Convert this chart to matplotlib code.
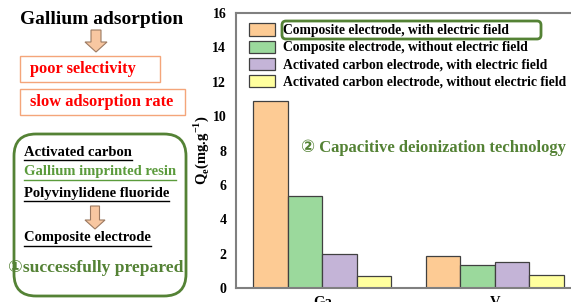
import matplotlib
matplotlib.use("Agg")
import matplotlib.pyplot as plt
from matplotlib.patches import FancyBboxPatch, Rectangle, Polygon
import numpy as np

categories = ["Ga", "V"]
series_names = [
    "Composite electrode, with electric field",
    "Composite electrode, without electric field",
    "Activated carbon electrode, with electric field",
    "Activated carbon electrode, without electric field",
]
values = [
    [10.9, 1.84],
    [5.37, 1.32],
    [1.96, 1.49],
    [0.68, 0.74],
]
colors = ["#FDCB94", "#9BD99C", "#C4B4D7", "#FFFF9E"]
yticks = [0, 2, 4, 6, 8, 10, 12, 14, 16]

SERIF = ["Liberation Serif", "DejaVu Serif"]
GREEN = "#548235"

W, H = 571, 302
fig = plt.figure(figsize=(W / 100, H / 100), dpi=100)

# main bar chart axes (extends slightly beyond right edge as in reference)
ax = fig.add_axes([236 / W, 14 / H, 345 / W, 275 / H])
x = np.arange(len(categories))
bw = 0.2
for i, (name, vals) in enumerate(zip(series_names, values)):
    ax.bar(x + (i - 1.5) * bw, vals, bw, color=colors[i], edgecolor="#404040",
           linewidth=0.9, label=name)
ax.set_xlim(-0.5, 1.5)
ax.set_ylim(0, 16)
ax.set_yticks(yticks)
ax.set_yticklabels([str(t) for t in yticks], fontfamily=SERIF, fontweight="bold", fontsize=10)
ax.set_xticks(x)
ax.set_xticklabels(categories, fontfamily=SERIF, fontweight="bold", fontsize=10.5)
ax.tick_params(axis="y", length=0, pad=7)
ax.tick_params(axis="x", length=0, pad=6)
for s in ["left", "bottom", "top", "right"]:
    ax.spines[s].set_color("#808080")
    ax.spines[s].set_linewidth(1.5)
ax.set_ylabel("Q$_\\mathregular{e}$(mg.g$^\\mathregular{-1}$)", fontfamily=SERIF,
              fontweight="bold", fontsize=10.5, labelpad=1)
leg = ax.legend(loc="upper left", bbox_to_anchor=(0.038, 0.962), frameon=False,
                prop={"family": SERIF, "weight": "bold", "size": 9.8},
                handlelength=1.9, handleheight=1.0, labelspacing=0.25, handletextpad=0.62,
                borderaxespad=0, borderpad=0)
for p in leg.get_patches():
    p.set_edgecolor("#404040")

# overlay in pixel coordinates for annotations
ov = fig.add_axes([0, 0, 1, 1], facecolor="none")
ov.set_xlim(0, W)
ov.set_ylim(H, 0)
ov.axis("off")

def arrow(cx, y0, y1, w_shaft=10, w_head=22, head=10):
    pts = [(cx - w_shaft / 2, y0), (cx + w_shaft / 2, y0), (cx + w_shaft / 2, y1 - head),
           (cx + w_head / 2, y1 - head), (cx, y1), (cx - w_head / 2, y1 - head),
           (cx - w_shaft / 2, y1 - head)]
    ov.add_patch(Polygon(pts, closed=True, facecolor="#F8C7A1", edgecolor="#9C7A62", linewidth=0.8))

ov.text(20, 20, "Gallium adsorption", family=SERIF, weight="bold", fontsize=14,
        ha="left", va="center", color="black")
arrow(96, 30, 52)
ov.add_patch(Rectangle((20, 56), 140, 26, facecolor="white", edgecolor="#F4A57A", linewidth=1))
ov.text(30, 69, "poor selectivity", family=SERIF, weight="bold", fontsize=11.8,
        ha="left", va="center", color="#FF0000")
ov.add_patch(Rectangle((20, 89), 165, 26, facecolor="white", edgecolor="#F4A57A", linewidth=1))
ov.text(30, 102, "slow adsorption rate", family=SERIF, weight="bold", fontsize=11.8,
        ha="left", va="center", color="#FF0000")

ov.add_patch(FancyBboxPatch((14, 134), 172, 162, boxstyle="round,pad=0,rounding_size=22",
                            facecolor="none", edgecolor=GREEN, linewidth=2))

under_texts = []
for txt, yy, col in [("Activated carbon", 152, "black"),
                     ("Gallium imprinted resin", 172, "#5B9B3C"),
                     ("Polyvinylidene fluoride", 193, "black"),
                     ("Composite electrode", 238, "black")]:
    t = ov.text(24, yy, txt, family=SERIF, weight="bold", fontsize=10.5,
                ha="left", va="center", color=col)
    under_texts.append((t, col))
arrow(95, 206, 229, w_shaft=9, w_head=20, head=9)
ov.text(8, 268, "\u2460successfully prepared", family=["Liberation Serif", "DejaVu Sans"],
        weight="bold", fontsize=12.6, ha="left", va="center", color=GREEN)

ov.text(301, 148, "\u2461 Capacitive deionization technology",
        family=["Liberation Serif", "DejaVu Sans"], weight="bold", fontsize=12,
        ha="left", va="center", color=GREEN)

# highlight box around first legend entry
ov.add_patch(FancyBboxPatch((282, 21), 259, 18, boxstyle="round,pad=0,rounding_size=4",
                            facecolor="none", edgecolor=GREEN, linewidth=2))

# underlines
fig.canvas.draw()
r = fig.canvas.get_renderer()
inv = ov.transData.inverted()
for t, col in under_texts:
    bb = t.get_window_extent(r)
    (x0, yb), (x1, _) = inv.transform([(bb.x0, bb.y0), (bb.x1, bb.y1)])
    ov.plot([x0, x1], [yb + 1, yb + 1], color=col, lw=1)

fig.savefig("out.png", dpi=100)
